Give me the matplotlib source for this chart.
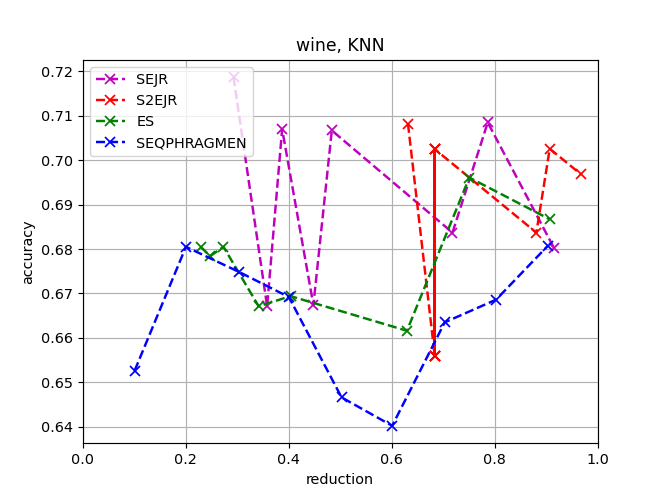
import matplotlib
matplotlib.use("Agg")
import matplotlib.pyplot as plt

sejr_x = [0.2925, 0.3578, 0.387, 0.4477, 0.4835, 0.718, 0.7865, 0.915]
sejr_y = [0.7187, 0.6671, 0.7070, 0.6674, 0.7067, 0.6837, 0.7085, 0.6803]

s2ejr_x = [0.6315, 0.6835, 0.6835, 0.6835, 0.6835, 0.6835, 0.6835, 0.6835, 0.6835, 0.881, 0.907, 0.968]
s2ejr_y = [0.7082, 0.6560, 0.7025, 0.6560, 0.7025, 0.6560, 0.7025, 0.6560, 0.7025, 0.6837, 0.7026, 0.6968]

es_x = [0.2287, 0.247, 0.273, 0.3414, 0.4033, 0.6295, 0.7507, 0.907]
es_y = [0.6805, 0.6784, 0.6805, 0.6671, 0.6694, 0.6616, 0.6961, 0.6867]

seq_x = [0.1003, 0.2, 0.3023, 0.4, 0.5024, 0.6008, 0.703, 0.8027, 0.903]
seq_y = [0.6526, 0.6805, 0.6749, 0.6692, 0.6466, 0.6402, 0.6635, 0.6686, 0.6807]

fig, ax = plt.subplots(figsize=(6.4, 4.8), dpi=103.75)
style = dict(linewidth=1.7, markersize=6.5, markeredgewidth=1.2)
ax.plot(sejr_x, sejr_y, 'm--x', label='SEJR', **style)
ax.plot(s2ejr_x, s2ejr_y, 'r--x', label='S2EJR', **style)
ax.plot(es_x, es_y, 'g--x', label='ES', **style)
ax.plot(seq_x, seq_y, 'b--x', label='SEQPHRAGMEN', **style)
ax.set_xlim(0, 1)
ax.set_title('wine, KNN')
ax.set_xlabel('reduction')
ax.set_ylabel('accuracy')
ax.grid(True)
ax.legend(loc='upper left')
fig.savefig('out.png', dpi=103.75)
